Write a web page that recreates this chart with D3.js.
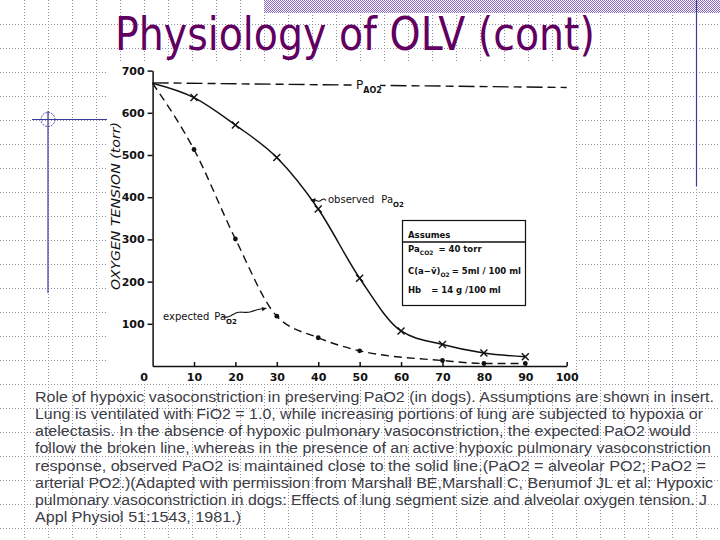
<!DOCTYPE html>
<html lang="en">
<head>
<meta charset="utf-8">
<title>Physiology of OLV (cont)</title>
<script src="https://cdn.jsdelivr.net/npm/d3@7"></script>
<style>
  body { margin: 0; background: #fff; }
  .axis path, .axis line { stroke: #111; stroke-width: 1.5; }
  .axis text { font-family: "DejaVu Sans", sans-serif; font-size: 11px; font-weight: bold; fill: #111; }
  .fig text { font-family: "DejaVu Sans", sans-serif; fill: #111; }
  .caption { font-family: "Liberation Sans", Arial, sans-serif; font-size: 14px; fill: #3c3c46; }
</style>
</head>
<body>
<script>
// % of lung made hypoxic (x) and oxygen tension in torr (y)
var obsX = [0, 10, 20, 30, 40, 50, 60, 70, 80, 90];
var obsY = [670, 636, 571, 494, 372, 208, 83, 51, 31, 22];
var expX = [0, 10, 20, 30, 40, 50, 70, 80, 90];
var expY = [670, 513, 301, 118, 67, 36, 13, 6, 6];
var alvX = [0, 100];
var alvY = [671, 660];

var xTicks = [0, 10, 20, 30, 40, 50, 60, 70, 80, 90, 100];
var yTicks = [100, 200, 300, 400, 500, 600, 700];

var insetRows = ["= 40 torr", "= 5ml / 100 ml", "= 14 g /100 ml"];

var caption = [
  "Role of hypoxic vasoconstriction in preserving PaO2 (in dogs). Assumptions are shown in insert.",
  "Lung is ventilated with FiO2 = 1.0, while increasing portions of lung are subjected to hypoxia or",
  "atelectasis. In the absence of hypoxic pulmonary vasoconstriction, the expected PaO2 would",
  "follow the broken line, whereas in the presence of an active hypoxic pulmonary vasoconstriction",
  "response, observed PaO2 is maintained close to the solid line.(PaO2 = alveolar PO2; PaO2 =",
  "arterial PO2.)(Adapted with permission from Marshall BE,Marshall C, Benumof JL et al: Hypoxic",
  "pulmonary vasoconstriction in dogs: Effects of lung segment size and alveolar oxygen tension. J",
  "Appl Physiol 51:1543, 1981.)"
];
var captionEnds = [714, 703, 691, 711, 706, 713, 707, 241];

var W = 720, H = 540;

var svg = d3.select("body").append("svg")
  .attr("width", W)
  .attr("height", H);

var defs = svg.append("defs");
var pat = defs.append("pattern")
  .attr("id", "checker")
  .attr("width", 2).attr("height", 2)
  .attr("patternUnits", "userSpaceOnUse");
pat.append("rect").attr("width", 2).attr("height", 2).attr("fill", "#fff");
pat.append("rect").attr("width", 1).attr("height", 1).attr("fill", "#8a66c4");
pat.append("rect").attr("x", 1).attr("y", 1).attr("width", 1).attr("height", 1).attr("fill", "#8a66c4");

// graph paper background
var grid = svg.append("g");
for (var i = 1; i * 24 < W; i++) {
  grid.append("line")
    .attr("x1", i * 24 + 0.5).attr("x2", i * 24 + 0.5)
    .attr("y1", 0).attr("y2", H);
}
for (var j = 1; j * 24 < H; j++) {
  grid.append("line")
    .attr("y1", j * 24 + 0.5).attr("y2", j * 24 + 0.5)
    .attr("x1", 0).attr("x2", W);
}
grid.selectAll("line")
  .attr("stroke", "#8f8fa0")
  .attr("stroke-width", 1)
  .attr("stroke-dasharray", "1,2");

// top band and decorations
svg.append("rect")
  .attr("x", 264).attr("y", 0)
  .attr("width", W - 264).attr("height", 13)
  .attr("fill", "url(#checker)");

svg.append("line")
  .attr("x1", 696.5).attr("x2", 696.5).attr("y1", 0).attr("y2", 186)
  .attr("stroke", "#3a3a9a").attr("stroke-width", 1.2);
svg.append("line")
  .attr("x1", 32).attr("x2", 107).attr("y1", 119.5).attr("y2", 119.5)
  .attr("stroke", "#3a3a9a").attr("stroke-width", 1.2);
svg.append("line")
  .attr("x1", 48).attr("x2", 48).attr("y1", 111).attr("y2", 293)
  .attr("stroke", "#3a3a9a").attr("stroke-width", 1.2);
svg.append("circle")
  .attr("cx", 48).attr("cy", 119.5).attr("r", 7)
  .attr("fill", "none").attr("stroke", "#3a3a9a").attr("stroke-width", 0.9)
  .attr("stroke-dasharray", "2,1");

// title
svg.append("text")
  .attr("x", 115).attr("y", 50)
  .attr("textLength", 480)
  .attr("lengthAdjust", "spacingAndGlyphs")
  .style("font-family", "Tahoma, 'DejaVu Sans', sans-serif")
  .style("font-size", "46px")
  .style("fill", "#620062")
  .text("Physiology of OLV (cont)");

// scanned figure area
svg.append("rect")
  .attr("x", 108).attr("y", 62)
  .attr("width", 468).attr("height", 321)
  .attr("fill", "#fff");

var fig = svg.append("g").attr("class", "fig");

var xScale = d3.scaleLinear().domain([0, 100]).range([152.6, 566.7]);
var yScale = d3.scaleLinear().domain([0, 700]).range([366, 70.6]);

var xAxis = d3.axisBottom(xScale)
  .tickValues(xTicks)
  .tickSizeInner(-4)
  .tickSizeOuter(0)
  .tickPadding(7)
  .tickFormat(d3.format("d"));

var yAxis = d3.axisLeft(yScale)
  .tickValues(yTicks)
  .tickSizeInner(5)
  .tickSizeOuter(0)
  .tickPadding(3);

var gx = fig.append("g")
  .attr("class", "axis")
  .attr("transform", "translate(0," + yScale(0) + ")")
  .call(xAxis);
gx.selectAll(".tick").filter(function(d) { return d === 0; })
  .select("text").attr("dx", -9);
gx.selectAll(".tick").filter(function(d) { return d === 0; })
  .select("line").remove();

fig.append("g")
  .attr("class", "axis")
  .attr("transform", "translate(" + xScale(0) + ",0)")
  .call(yAxis);

fig.append("text")
  .attr("transform", "translate(120," + 206 + ") rotate(-90)")
  .attr("text-anchor", "middle")
  .attr("textLength", 168)
  .attr("lengthAdjust", "spacingAndGlyphs")
  .style("font-size", "13px")
  .style("font-style", "italic")
  .text("OXYGEN  TENSION  (torr)");

var line = d3.line()
  .x(function(d) { return xScale(d[0]); })
  .y(function(d) { return yScale(d[1]); });

var obs = d3.zip(obsX, obsY);
var exp = d3.zip(expX, expY);
var alv = d3.zip(alvX, alvY);

// alveolar PO2 line
fig.append("path")
  .datum(alv)
  .attr("d", line)
  .attr("fill", "none")
  .attr("stroke", "#111")
  .attr("stroke-width", 1.4)
  .attr("stroke-dasharray", "16,5,8,5");

var pa = fig.append("g");
pa.append("rect")
  .attr("x", 353).attr("y", 76).attr("width", 27).attr("height", 20)
  .attr("fill", "#fff");
var paText = pa.append("text")
  .attr("x", 356).attr("y", 89)
  .style("font-size", "12px");
paText.append("tspan").text("P");
paText.append("tspan").attr("dy", 4).style("font-size", "8px").style("font-weight", "bold").text("AO2");

// expected (no HPV) curve
fig.append("path")
  .datum(exp)
  .attr("d", line.curve(d3.curveMonotoneX))
  .attr("fill", "none")
  .attr("stroke", "#111")
  .attr("stroke-width", 1.4)
  .attr("stroke-dasharray", "8,5");

fig.selectAll(".dot")
  .data(exp.slice(1))
  .enter().append("circle")
  .attr("class", "dot")
  .attr("cx", function(d) { return xScale(d[0]); })
  .attr("cy", function(d) { return yScale(d[1]); })
  .attr("r", 2.4)
  .attr("fill", "#111");

// observed curve
fig.append("path")
  .datum(obs)
  .attr("d", line.curve(d3.curveMonotoneX))
  .attr("fill", "none")
  .attr("stroke", "#111")
  .attr("stroke-width", 1.5);

fig.selectAll(".cross")
  .data(obs.slice(1))
  .enter().append("path")
  .attr("class", "cross")
  .attr("transform", function(d) { return "translate(" + xScale(d[0]) + "," + yScale(d[1]) + ")"; })
  .attr("d", "M-3.5,-3.5L3.5,3.5M-3.5,3.5L3.5,-3.5")
  .attr("stroke", "#111")
  .attr("stroke-width", 1.4);

// wavy leaders
function squiggle(x0, y0, x1, y1, waves) {
  var pts = [];
  var dx = x1 - x0, dy = y1 - y0, len = Math.sqrt(dx * dx + dy * dy);
  var nx = -dy / len, ny = dx / len;
  for (var k = 0; k <= 24; k++) {
    var t = k / 24;
    var off = Math.sin(t * Math.PI * 2 * waves) * 1.8 * (1 - t);
    pts.push([x0 + dx * t + nx * off, y0 + dy * t + ny * off]);
  }
  return d3.line().curve(d3.curveBasis)(pts);
}
function arrowHead(x0, y0, x1, y1) {
  var a = Math.atan2(y1 - y0, x1 - x0);
  var s = 5;
  return "M" + x1 + "," + y1 +
    "L" + (x1 - s * Math.cos(a - 0.45)) + "," + (y1 - s * Math.sin(a - 0.45)) +
    "L" + (x1 - s * Math.cos(a + 0.45)) + "," + (y1 - s * Math.sin(a + 0.45)) + "Z";
}

var oTip = [xScale(38.2), yScale(393)];
fig.append("path").attr("d", squiggle(326, 200.5, oTip[0], oTip[1], 1.5))
  .attr("fill", "none").attr("stroke", "#111").attr("stroke-width", 1.1);
fig.append("path").attr("d", arrowHead(326, 200.5, oTip[0], oTip[1])).attr("fill", "#111");

var eTip = [xScale(27.5), yScale(137)];
fig.append("path").attr("d", squiggle(222, 316.5, eTip[0], eTip[1], 2))
  .attr("fill", "none").attr("stroke", "#111").attr("stroke-width", 1.1);
fig.append("path").attr("d", arrowHead(222, 316.5, eTip[0], eTip[1])).attr("fill", "#111");

var oLab = fig.append("text").attr("x", 328).attr("y", 203).style("font-size", "10px");
oLab.append("tspan").text("observed");
oLab.append("tspan").attr("dx", 7).text("Pa");
oLab.append("tspan").attr("dy", 4).style("font-size", "7px").style("font-weight", "bold").text("O2");

var eLab = fig.append("text").attr("x", 163).attr("y", 320).style("font-size", "10px");
eLab.append("tspan").text("expected");
eLab.append("tspan").attr("dx", 5).text("Pa");
eLab.append("tspan").attr("dy", 4).style("font-size", "7px").style("font-weight", "bold").text("O2");

// inset box
var inset = fig.append("g");
inset.append("rect")
  .attr("x", 402.5).attr("y", 220.5)
  .attr("width", 123).attr("height", 85)
  .attr("fill", "#fff").attr("stroke", "#111").attr("stroke-width", 1.2);
inset.append("line")
  .attr("x1", 402.5).attr("x2", 525.5).attr("y1", 242).attr("y2", 242)
  .attr("stroke", "#111").attr("stroke-width", 1.4);
inset.append("text").attr("x", 408).attr("y", 238)
  .style("font-size", "8.5px").style("font-weight", "bold").text("Assumes");

var r1 = inset.append("text").attr("x", 408).attr("y", 252).style("font-size", "8.5px").style("font-weight", "bold");
r1.append("tspan").text("Pa");
r1.append("tspan").attr("dy", 3).style("font-size", "6px").text("CO2");
r1.append("tspan").attr("dy", -3).attr("dx", 5).text(insetRows[0]);

var r2 = inset.append("text").attr("x", 408).attr("y", 274).style("font-size", "8.5px").style("font-weight", "bold");
r2.append("tspan").text("C(a\u2212v\u0304)");
r2.append("tspan").attr("dy", 3).style("font-size", "6px").text("O2");
r2.append("tspan").attr("dy", -3).attr("dx", 2).text(insetRows[1]);

var r3 = inset.append("text").attr("x", 408).attr("y", 293).style("font-size", "8.5px").style("font-weight", "bold");
r3.append("tspan").text("Hb");
r3.append("tspan").attr("dx", 10).text(insetRows[2]);

// caption
svg.append("g").selectAll("text")
  .data(caption)
  .enter().append("text")
  .attr("class", "caption")
  .attr("x", 35)
  .attr("y", function(d, i) { return 401.7 + i * 17.2; })
  .attr("textLength", function(d, i) { return captionEnds[i] - 35; })
  .attr("lengthAdjust", "spacingAndGlyphs")
  .text(function(d) { return d; });
</script>
</body>
</html>
